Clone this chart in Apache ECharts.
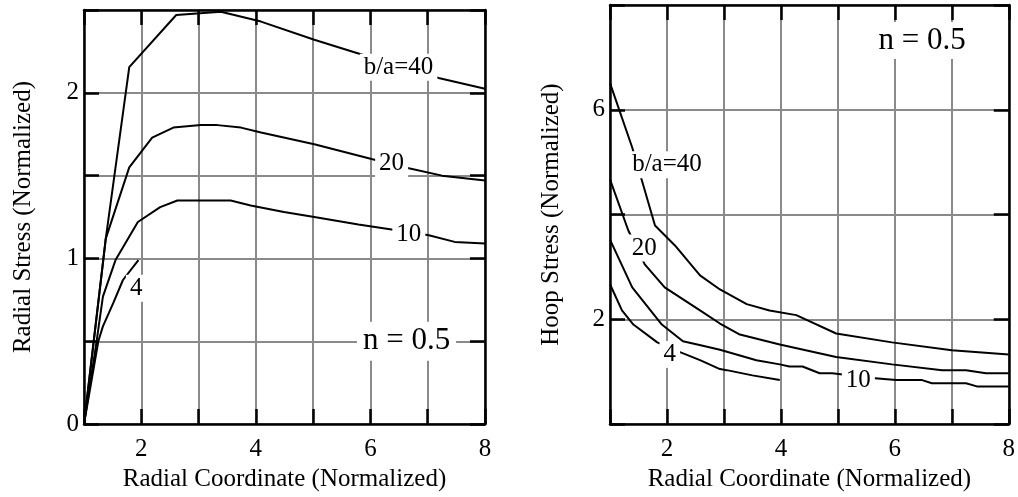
<!DOCTYPE html>
<html><head><meta charset="utf-8">
<script src="https://cdn.jsdelivr.net/npm/echarts@6/dist/echarts.min.js"></script>
<style>html,body{margin:0;padding:0;background:#fff}#c{width:1018px;height:497px}</style>
</head><body><div id="c"></div>
<script>
// ---- tick labels / titles ----
const xTickLabels = [2, 4, 6, 8];
const radialYTickLabels = [0, 1, 2];
const hoopYTickLabels = [2, 6];
const xTitle = 'Radial Coordinate (Normalized)';
const radialYTitle = 'Radial Stress (Normalized)';
const hoopYTitle = 'Hoop Stress (Normalized)';

// ---- Radial stress curves [r, stress] ----
const radial40 = [[1,0],[1.38,1.12],[1.79,2.155],[2.61,2.47],[3.39,2.49],[4.09,2.43],[5.02,2.32],[5.72,2.245],[7.19,2.09],[8,2.025]];
const radial20 = [[1,0],[1.38,1.12],[1.79,1.55],[2.19,1.73],[2.56,1.79],[3.04,1.805],[3.33,1.805],[3.74,1.79],[4.09,1.76],[5.02,1.69],[6.02,1.60],[6.67,1.545],[7.25,1.50],[8,1.47]];
const radial10 = [[1,0],[1.22,0.5],[1.33,0.77],[1.55,0.99],[1.94,1.22],[2.33,1.31],[2.63,1.35],[3.56,1.35],[3.91,1.32],[4.49,1.28],[5.02,1.25],[5.79,1.205],[6.37,1.175],[7.02,1.14],[7.47,1.10],[8,1.09]];
const radial4 = [[1,0],[1.25,0.5],[1.33,0.59],[1.51,0.73],[1.68,0.87],[1.95,0.99]];

// ---- Hoop stress curves [r, stress] ----
const hoop40 = [[1,6.51],[1.39,5.28],[1.56,4.65],[1.79,3.79],[2.14,3.41],[2.58,2.84],[2.93,2.57],[3.40,2.29],[3.80,2.17],[4.27,2.08],[4.97,1.73],[5.95,1.56],[7.0,1.41],[8,1.33]];
const hoop20 = [[1,4.67],[1.32,3.70],[1.61,3.05],[1.96,2.61],[2.58,2.17],[2.93,1.92],[3.28,1.71],[3.98,1.52],[4.97,1.28],[5.95,1.14],[6.83,1.03],[7.25,1.03],[7.6,0.97],[8,0.97]];
const hoop10 = [[1,3.52],[1.39,2.61],[1.91,1.90],[2.28,1.58],[2.61,1.50],[2.93,1.42],[3.57,1.22],[3.98,1.14],[4.15,1.10],[4.38,1.10],[4.68,0.97],[4.9,0.97],[5.6,0.88],[6.02,0.84],[6.48,0.84],[6.65,0.78],[7.25,0.78],[7.44,0.72],[8,0.72]];
const hoop4 = [[1,2.67],[1.21,2.17],[1.41,1.90],[1.83,1.56],[2.24,1.37],[2.58,1.22],[2.93,1.05],[3.05,1.03],[3.50,0.93],[3.98,0.84]];

// ---- curve annotations [r, stress, text] ----
const radialCurveLabels = [[6.49,2.155,'b/a=40'],[6.37,1.574,'20'],[6.67,1.146,'10'],[1.91,0.82,'4']];
const radialNote = [[6.63,0.5,'n = 0.5']];
const hoopCurveLabels = [[2.0,4.95,'b/a=40'],[1.6,3.36,'20'],[2.05,1.33,'4'],[5.36,0.83,'10']];
const hoopNote = [[6.48,7.32,'n = 0.5']];

const FONT = "'Liberation Serif','Times New Roman',serif";
const GRIDC = '#8a8a8a';

function xAxes(g, nameGap) {
  const base = {gridIndex: g, type: 'value', min: 1, max: 8, interval: 1};
  return [
    Object.assign({}, base, {position: 'bottom', z: 0, axisLine: {show: false}, axisTick: {show: false}, axisLabel: {show: false},
      splitLine: {show: true, lineStyle: {color: GRIDC, width: 2}}}),
    Object.assign({}, base, {position: 'bottom', z: 1,
      axisLine: {show: true, onZero: false, lineStyle: {color: '#000', width: 2.5}},
      axisTick: {show: true, inside: true, length: 15, lineStyle: {color: '#000', width: 2.5}},
      axisLabel: {show: true, showMinLabel: true, showMaxLabel: true, margin: 13, color: '#000', fontSize: 25, fontFamily: FONT,
        formatter: v => xTickLabels.includes(v) ? String(v) : ''},
      splitLine: {show: false},
      name: xTitle, nameLocation: 'middle', nameGap: nameGap,
      nameTextStyle: {color: '#000', fontSize: 25, fontFamily: FONT}}),
    Object.assign({}, base, {position: 'top', z: 1,
      axisLine: {show: true, onZero: false, lineStyle: {color: '#000', width: 2.5}},
      axisTick: {show: true, inside: true, length: 15, lineStyle: {color: '#000', width: 2.5}},
      axisLabel: {show: false}, splitLine: {show: false}})
  ];
}
function yAxes(g, max, interval, labels, title, nameGap) {
  const base = {gridIndex: g, type: 'value', min: 0, max: max, interval: interval};
  return [
    Object.assign({}, base, {position: 'left', z: 0, axisLine: {show: false}, axisTick: {show: false}, axisLabel: {show: false},
      splitLine: {show: true, lineStyle: {color: GRIDC, width: 2}}}),
    Object.assign({}, base, {position: 'left', z: 1,
      axisLine: {show: true, onZero: false, lineStyle: {color: '#000', width: 2.5}},
      axisTick: {show: true, inside: true, length: 15, lineStyle: {color: '#000', width: 2.5}},
      axisLabel: {show: true, showMinLabel: true, showMaxLabel: true, margin: 5, color: '#000', fontSize: 25, fontFamily: FONT,
        formatter: v => labels.includes(v) ? String(v) : ''},
      splitLine: {show: false},
      name: title, nameLocation: 'middle', nameGap: nameGap,
      nameTextStyle: {color: '#000', fontSize: 25, fontFamily: FONT}}),
    Object.assign({}, base, {position: 'right', z: 1,
      axisLine: {show: true, onZero: false, lineStyle: {color: '#000', width: 2.5}},
      axisTick: {show: true, inside: true, length: 15, lineStyle: {color: '#000', width: 2.5}},
      axisLabel: {show: false}, splitLine: {show: false}})
  ];
}
function curve(data, xi, yi) {
  return {type: 'line', xAxisIndex: xi, yAxisIndex: yi, data: data, showSymbol: false, symbol: 'none', z: 2,
    lineStyle: {color: '#000', width: 2}, silent: true};
}
function labels(data, xi, yi, size, pad) {
  return {type: 'scatter', xAxisIndex: xi, yAxisIndex: yi, data: data, symbolSize: 1, z: 5, silent: true,
    itemStyle: {color: 'rgba(0,0,0,0)', opacity: 1},
    label: {show: true, position: 'inside', formatter: p => p.value[2], color: '#000', fontSize: size, fontFamily: FONT,
      opacity: 1, textBorderWidth: 0, backgroundColor: '#fff', padding: pad}};
}

const chart = echarts.init(document.getElementById('c'), null, {renderer: 'canvas'});
chart.setOption({
  animation: false,
  backgroundColor: '#fff',
  grid: [
    {left: 84, top: 10, width: 401, height: 421},
    {left: 610, top: 5, width: 400, height: 422}
  ],
  xAxis: [].concat(xAxes(0, 38), xAxes(1, 41)),
  yAxis: [].concat(yAxes(0, 2.5, 0.5, radialYTickLabels, radialYTitle, 48), yAxes(1, 8, 2, hoopYTickLabels, hoopYTitle, 46)),
  series: [
    curve(radial40, 1, 1), curve(radial20, 1, 1), curve(radial10, 1, 1), curve(radial4, 1, 1),
    curve(hoop40, 4, 4), curve(hoop20, 4, 4), curve(hoop10, 4, 4), curve(hoop4, 4, 4),
    labels(radialCurveLabels, 1, 1, 25, [1, 4]),
    labels(radialNote, 1, 1, 31, [4, 6]),
    labels(hoopCurveLabels, 4, 4, 25, [1, 4]),
    labels(hoopNote, 4, 4, 31, [3, 6])
  ]
});
</script>
</body></html>
